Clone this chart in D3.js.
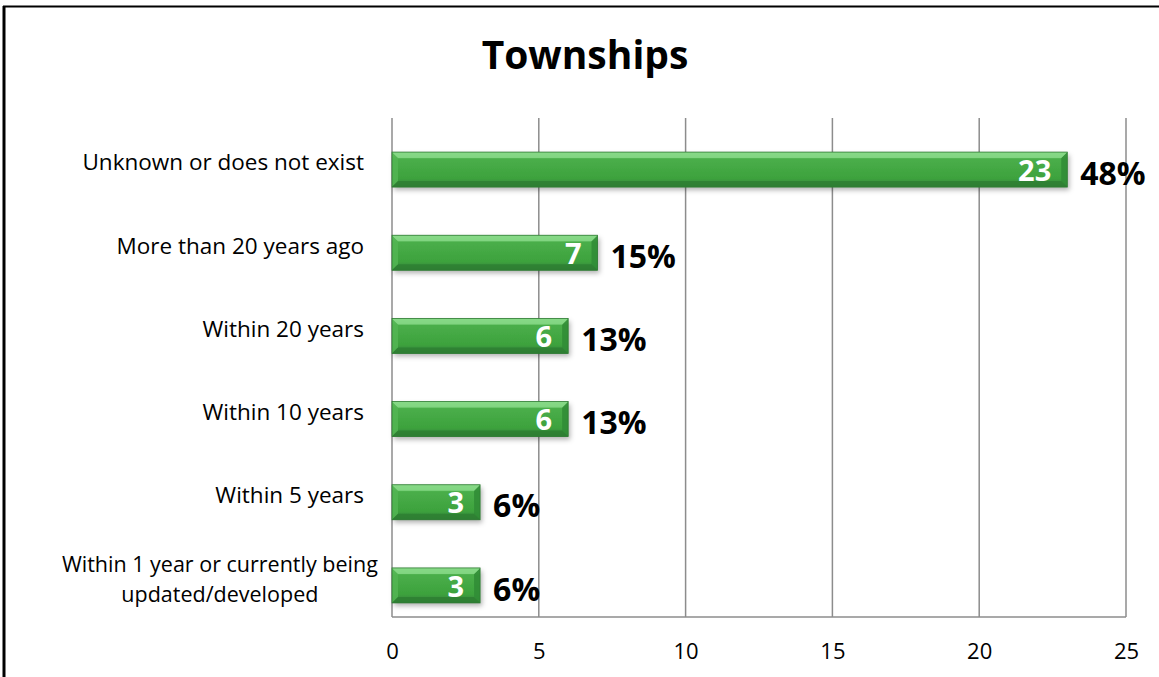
<!DOCTYPE html>
<html>
<head>
<meta charset="utf-8">
<script src="https://cdn.jsdelivr.net/npm/d3@7"></script>
<style>
  html, body { margin: 0; padding: 0; background: #fff; }
  svg { display: block; }
  text { font-family: "Open Sans", Lato, sans-serif; }
</style>
</head>
<body>
<svg id="chart" width="1159" height="677"></svg>
<script>
// Survey responses for townships: when the plan was last updated
const categories = [
  "Unknown or does not exist",
  "More than 20 years ago",
  "Within 20 years",
  "Within 10 years ",
  "Within 5 years",
  "Within 1 year or currently being\nupdated/developed"
];
const counts = [23, 7, 6, 6, 3, 3];
const percentLabels = ["48%", "15%", "13%", "13%", "6%", "6%"];
const xTicks = [0, 5, 10, 15, 20, 25];
const chartTitle = "Townships";

const svg = d3.select("#chart");
const W = 1159, H = 677;
const plot = { left: 392, right: 1126, top: 118, bottom: 617 };
const FONT = "'Open Sans', Lato, sans-serif";

const x = d3.scaleLinear().domain([0, 25]).range([plot.left, plot.right]);
const y = d3.scaleBand().domain(categories).range([plot.top, plot.bottom]);
const barH = 35;
const barShift = 10; // bars sit slightly below band centre

// defs: gradient + shadow
const defs = svg.append("defs");
const grad = defs.append("linearGradient").attr("id", "barGrad")
  .attr("x1", 0).attr("y1", 0).attr("x2", 0).attr("y2", 1);
[[0, "#8ddc8d"], [0.12, "#72cb72"], [0.2, "#4aae4a"], [0.75, "#3da23d"], [0.88, "#378f3b"], [1, "#2f7733"]]
  .forEach(([o, c]) => grad.append("stop").attr("offset", o).attr("stop-color", c));
const shadow = defs.append("filter").attr("id", "shadow")
  .attr("x", "-5%").attr("y", "-20%").attr("width", "115%").attr("height", "160%");
shadow.append("feDropShadow").attr("dx", 2).attr("dy", 3).attr("stdDeviation", 2.5)
  .attr("flood-color", "#000").attr("flood-opacity", 0.3);

// outer frame (left and top edges visible)
svg.append("line").attr("x1", 4).attr("y1", 6).attr("x2", 4).attr("y2", H)
  .attr("stroke", "#000").attr("stroke-width", 3);
svg.append("line").attr("x1", 3).attr("y1", 6.5).attr("x2", W).attr("y2", 6.5)
  .attr("stroke", "#000").attr("stroke-width", 2);

// title
svg.append("text").attr("x", 585).attr("y", 69).attr("text-anchor", "middle")
  .attr("font-size", 39).attr("font-weight", 700).attr("fill", "#000").text(chartTitle);

// vertical gridlines
svg.append("g").selectAll("line").data(xTicks).join("line")
  .attr("x1", d => x(d)).attr("x2", d => x(d))
  .attr("y1", plot.top).attr("y2", plot.bottom)
  .attr("stroke", "#8c8c8c").attr("stroke-width", 1.5);

// bottom axis line
svg.append("line").attr("x1", plot.left).attr("x2", plot.right)
  .attr("y1", plot.bottom).attr("y2", plot.bottom)
  .attr("stroke", "#8c8c8c").attr("stroke-width", 1.5);

// x tick labels
const xAxis = d3.axisBottom(x).tickValues(xTicks).tickSize(0).tickPadding(0);
const gx = svg.append("g").attr("transform", `translate(0,${plot.bottom + 34})`).call(xAxis);
gx.select(".domain").remove();
gx.selectAll("text").attr("font-family", FONT)
  .attr("font-size", 22).attr("fill", "#000").attr("dy", "0.35em");

// category labels: lines centred within each label block, block right-aligned
const catG = svg.append("g");
categories.forEach(c => {
  const lines = c.split("\n");
  const multi = lines.length > 1;
  const cy = y(c) + y.bandwidth() / 2 + (multi ? 4 : 3);
  const lineGap = 29.5;
  const t = catG.append("text").attr("x", 0).attr("y", cy)
    .attr("text-anchor", "middle").attr("font-size", multi ? 21.5 : 22.5).attr("fill", "#000");
  lines.forEach((ln, i) => {
    t.append("tspan").attr("x", 0)
      .attr("y", cy + (i - (lines.length - 1) / 2) * lineGap)
      .attr("dy", "0.35em").text(ln);
  });
  const w = t.node().getBBox().width;
  const rightEdge = multi ? 378 : 364;
  t.selectAll("tspan").attr("x", rightEdge - w / 2);
});

// bars with bevelled edges
const bars = svg.append("g").selectAll("g").data(counts).join("g")
  .attr("transform", (d, i) => `translate(${x(0)},${y(categories[i]) + y.bandwidth() / 2 + barShift - barH / 2})`);

bars.append("rect")
  .attr("width", d => x(d) - x(0)).attr("height", barH)
  .attr("fill", "url(#barGrad)").attr("filter", "url(#shadow)");

const bev = 6;
// left bevel (lit)
bars.append("path")
  .attr("d", `M0,0 L${bev},${bev} L${bev},${barH - bev} L0,${barH} Z`)
  .attr("fill", "#52b552").attr("opacity", 0.9);
// right bevel (shaded)
bars.append("path")
  .attr("d", d => { const w = x(d) - x(0); return `M${w},0 L${w - bev},${bev} L${w - bev},${barH - bev} L${w},${barH} Z`; })
  .attr("fill", "#318d36").attr("opacity", 0.9);
// top highlight
bars.append("path")
  .attr("d", d => { const w = x(d) - x(0); return `M0,0 L${w},0 L${w - bev},${bev} L${bev},${bev} Z`; })
  .attr("fill", "#86d886").attr("opacity", 0.85);
// bottom shade
bars.append("path")
  .attr("d", d => { const w = x(d) - x(0); return `M0,${barH} L${w},${barH} L${w - bev},${barH - bev} L${bev},${barH - bev} Z`; })
  .attr("fill", "#2e7f33").attr("opacity", 0.85);
bars.append("rect")
  .attr("width", d => x(d) - x(0)).attr("height", barH)
  .attr("fill", "none").attr("stroke", "#2f7a33").attr("stroke-width", 0.8);

// value labels inside bar end
bars.append("text")
  .attr("x", d => x(d) - x(0) - 16).attr("y", barH / 2 + 1).attr("dy", "0.35em")
  .attr("text-anchor", "end").attr("font-size", 29).attr("font-weight", 700)
  .attr("fill", "#fff").text(d => d);

// percentage labels outside bar
bars.append("text")
  .attr("x", d => x(d) - x(0) + 13).attr("y", barH / 2 + 4).attr("dy", "0.35em")
  .attr("text-anchor", "start").attr("font-size", 32).attr("font-weight", 700)
  .attr("fill", "#000").text((d, i) => percentLabels[i]);
</script>
</body>
</html>
